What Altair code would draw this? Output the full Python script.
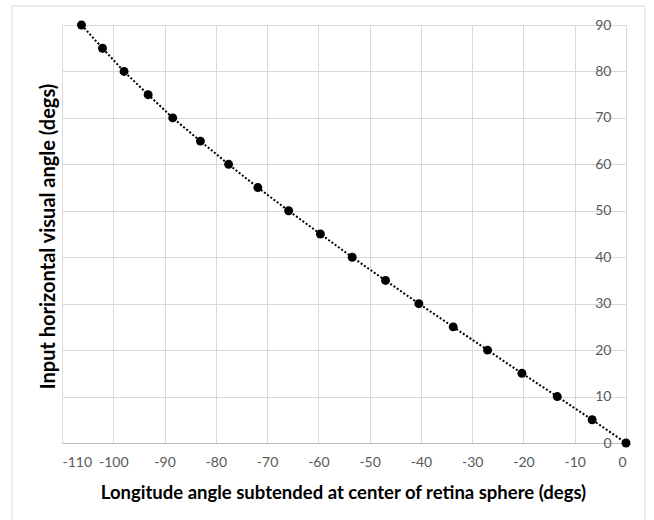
import altair as alt
import pandas as pd

longitude = [-106.2, -102.1, -97.9, -93.2, -88.4, -83.0, -77.5, -71.8, -65.8, -59.6,
             -53.4, -46.9, -40.4, -33.7, -27.0, -20.3, -13.4, -6.6, 0.0]
visual_angle = [90, 85, 80, 75, 70, 65, 60, 55, 50, 45, 40, 35, 30, 25, 20, 15, 10, 5, 0]
x_ticks = list(range(-110, 1, 10))
y_ticks = list(range(0, 91, 10))

df = pd.DataFrame({"lon": longitude, "ang": visual_angle})

W, H = 564, 418
FONT = "Lato"

x_enc = alt.X(
    "lon:Q",
    scale=alt.Scale(domain=[-110, 0], nice=False, zero=False),
    axis=alt.Axis(
        values=x_ticks,
        labelExpr="'' + datum.value",
        title="Longitude angle subtended at center of retina sphere (degs)",
        titleFont=FONT, titleFontSize=18.5, titleFontWeight="bold", titleColor="#000000",
        titleBaseline="middle", titleY=49, titleX=281,
        labelFont=FONT, labelFontSize=14, labelColor="#595959", labelPadding=12,
        ticks=False, domainColor="#bfbfbf", gridColor="#d9d9d9", grid=True,
    ),
)
y_enc = alt.Y(
    "ang:Q",
    scale=alt.Scale(domain=[0, 90], nice=False),
    axis=alt.Axis(
        orient="right",
        values=y_ticks,
        labelExpr="'' + datum.value",
        title="Input horizontal visual angle (degs)",
        titleFont=FONT, titleFontSize=20, titleFontWeight="bold", titleColor="#000000",
        titleAngle=270, titleAlign="center", titleBaseline="middle",
        titleX=-578, titleY=211,
        labelFont=FONT, labelFontSize=14, labelColor="#595959",
        labelAlign="right", labelBaseline="middle", labelPadding=-15,
        ticks=False, tickSize=0, domainColor="#d9d9d9", gridColor="#d9d9d9", grid=True,
    ),
)

border = alt.Chart(alt.Data(values=[{"a": 1}])).mark_rect(
    fillOpacity=0, stroke="#d9d9d9", strokeWidth=1
).encode(
    x=alt.value(-50), x2=alt.value(583), y=alt.value(-19), y2=alt.value(510)
)

line = alt.Chart(df).mark_line(
    color="#000000", strokeWidth=2, strokeDash=[2, 2]
).encode(x=x_enc, y=y_enc)

pts = alt.Chart(df).mark_circle(
    color="#000000", size=80, opacity=1
).encode(x=x_enc, y=y_enc)

chart = alt.layer(border, line, pts).properties(
    width=W, height=H,
    autosize=alt.AutoSizeParams(type="none"),
    padding={"left": 62, "top": 25, "right": 28, "bottom": 77},
    background="#ffffff",
).configure_view(stroke=None)

chart.save("out.html", embed_options={"renderer": "svg", "actions": False})
